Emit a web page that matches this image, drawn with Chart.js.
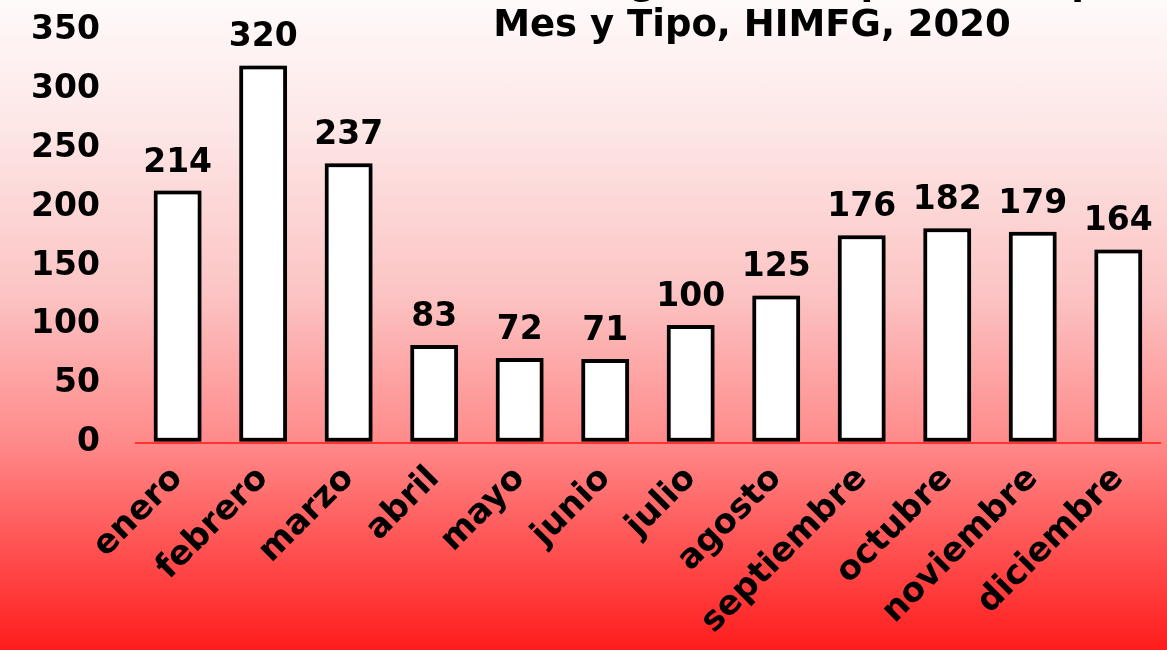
<!DOCTYPE html>
<html lang="es">
<head>
<meta charset="UTF-8">
<title>HIMFG 2020</title>
<script src="https://cdn.jsdelivr.net/npm/chart.js"></script>
<style>
    html, body {
        margin: 0;
        padding: 0;
    }
    body {
        width: 1167px;
        height: 650px;
        overflow: hidden;
        background: linear-gradient(to bottom, #fffafa 0%, #fde6e6 20%, #fcc4c4 45%, #ff8a8a 68%, #ff5656 83%, #ff1c1c 100%);
    }
    #wrap {
        position: relative;
        width: 1167px;
        height: 650px;
    }
</style>
</head>
<body>
<div id="wrap">
    <canvas id="myChart" width="1167" height="650"></canvas>
</div>

<script>
    // data
    const meses = ['enero', 'febrero', 'marzo', 'abril', 'mayo', 'junio', 'julio',
                   'agosto', 'septiembre', 'octubre', 'noviembre', 'diciembre'];
    const totales = [214, 320, 237, 83, 72, 71, 100, 125, 176, 182, 179, 164];
    const tituloLineas = ['Número de Egresos Hospitalarios por', 'Mes y Tipo, HIMFG, 2020'];

    const fuente = "'DejaVu Sans', sans-serif";

    // soft shadow behind the bars
    const sombra = {
        id: 'sombra',
        beforeDatasetsDraw(chart) {
            const ctx = chart.ctx;
            ctx.save();
            ctx.shadowColor = 'rgba(0,0,0,0.45)';
            ctx.shadowBlur = 10;
            ctx.shadowOffsetX = 0;
            ctx.shadowOffsetY = 0;
        },
        afterDatasetsDraw(chart) {
            chart.ctx.restore();
        }
    };

    // numbers on top of each bar
    const etiquetas = {
        id: 'etiquetas',
        afterDraw(chart) {
            const ctx = chart.ctx;
            const meta = chart.getDatasetMeta(0);
            ctx.save();
            ctx.font = "bold 33px " + fuente;
            ctx.fillStyle = '#000';
            ctx.textAlign = 'center';
            ctx.textBaseline = 'bottom';
            meta.data.forEach((bar, i) => {
                ctx.fillText(totales[i], bar.x, bar.y - 11);
            });
            ctx.restore();
        }
    };

    // title, first line runs off the top of the picture
    const titulo = {
        id: 'titulo',
        afterDraw(chart) {
            const ctx = chart.ctx;
            ctx.save();
            ctx.font = "bold 37px " + fuente;
            ctx.fillStyle = '#000';
            ctx.textAlign = 'center';
            ctx.textBaseline = 'middle';
            ctx.fillText(tituloLineas[0], 752, -16);
            ctx.fillText(tituloLineas[1], 752, 26);
            ctx.restore();
        }
    };

    const ctx = document.getElementById('myChart').getContext('2d');
    new Chart(ctx, {
        type: 'bar',
        data: {
            labels: meses,
            datasets: [{
                data: totales,
                backgroundColor: '#ffffff',
                borderColor: '#000000',
                borderWidth: 4,
                borderSkipped: false,
                categoryPercentage: 1,
                barPercentage: 0.56
            }]
        },
        options: {
            responsive: false,
            animation: false,
            layout: {
                padding: { left: 28, right: 6, top: 30, bottom: 0 }
            },
            plugins: {
                legend: { display: false },
                tooltip: { enabled: false }
            },
            scales: {
                x: {
                    grid: { display: false },
                    border: { display: false },
                    ticks: {
                        color: '#000',
                        font: { family: fuente, size: 34, weight: 'bold' },
                        minRotation: 45,
                        maxRotation: 45,
                        padding: 8
                    }
                },
                y: {
                    min: 0,
                    max: 350,
                    border: { display: false },
                    grid: {
                        drawTicks: true,
                        tickLength: 32,
                        tickColor: 'rgba(0,0,0,0)',
                        lineWidth: 2,
                        color: c => c.tick.value === 0 ? 'rgba(255,40,40,0.9)' : 'rgba(0,0,0,0)'
                    },
                    ticks: {
                        stepSize: 50,
                        color: '#000',
                        font: { family: fuente, size: 33, weight: 'bold' },
                        padding: 3
                    }
                }
            }
        },
        plugins: [sombra, etiquetas, titulo]
    });
</script>
</body>
</html>
